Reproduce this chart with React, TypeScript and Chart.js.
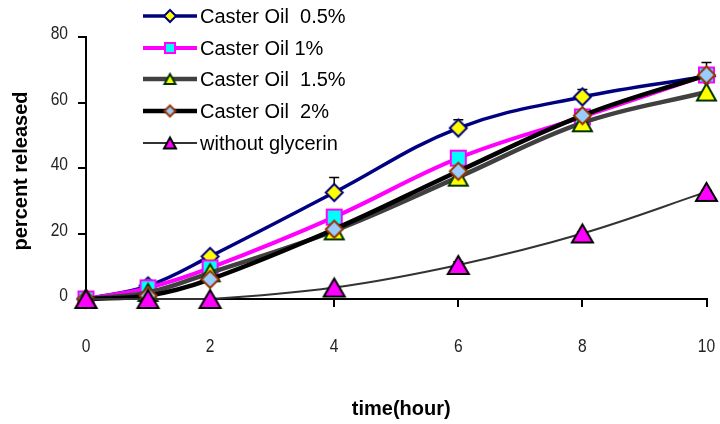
import React, { useEffect, useRef } from "react";
import { Chart, registerables } from "chart.js";

Chart.register(...registerables);

// ---- data ----
const hours = [0, 1, 2, 4, 6, 8, 10];
const seriesNames = [
  "Caster Oil  0.5%",
  "Caster Oil 1%",
  "Caster Oil  1.5%",
  "Caster Oil  2%",
  "without glycerin",
];
const castor05 = [0, 4, 13, 32.5, 52.2, 61.7, 68];
const castor1 = [0, 3.4, 9.5, 25, 43, 55.6, 68.4];
const castor15 = [0, 2, 8, 20.8, 37.2, 53.8, 63.2];
const castor2 = [0, 1, 6, 21.3, 39, 56, 68.4];
const noGlycerin = [0, 0, 0, 3.5, 10.4, 20, 32.7];
const err05 = [0, 0, 0, 4.6, 2.5, 2.3, 0];
const err1 = [0, 0, 0, 1, 0, 0, 0];
const err15 = [0, 0, 0, 0, 0, 0, 0];
const err2 = [0, 0, 0, 0, 0, 0, 3.8];
const errNoG = [0, 0, 0, 0, 1, 0.5, 0.5];
const xTicks = [0, 2, 4, 6, 8, 10];
const yTicks = [0, 20, 40, 60, 80];
const xTitle = "time(hour)";
const yTitle = "percent released";

type Kind = "diamond" | "square" | "triangle";

function makeMarker(kind: Kind, w: number, h: number, fill: string, stroke: string, lw: number) {
  const c = document.createElement("canvas");
  c.width = Math.ceil(w + lw * 2 + 2);
  c.height = Math.ceil(h + lw * 2 + 2);
  const ctx = c.getContext("2d")!;
  const cx = c.width / 2;
  const cy = c.height / 2;
  ctx.beginPath();
  if (kind === "diamond") {
    ctx.moveTo(cx, cy - h / 2);
    ctx.lineTo(cx + w / 2, cy);
    ctx.lineTo(cx, cy + h / 2);
    ctx.lineTo(cx - w / 2, cy);
  } else if (kind === "square") {
    ctx.rect(cx - w / 2, cy - h / 2, w, h);
  } else {
    ctx.moveTo(cx, cy - h / 2);
    ctx.lineTo(cx + w / 2, cy + h / 2);
    ctx.lineTo(cx - w / 2, cy + h / 2);
  }
  ctx.closePath();
  ctx.fillStyle = fill;
  ctx.fill();
  ctx.lineJoin = "miter";
  ctx.lineWidth = lw;
  ctx.strokeStyle = stroke;
  ctx.stroke();
  return c;
}

interface Style {
  line: string;
  width: number;
  kind: Kind;
  fill: string;
  stroke: string;
  mw: number;
  mh: number;
  lw: number;
  lmw: number;
  lmh: number;
}

const styles: Style[] = [
  { line: "#000080", width: 3.5, kind: "diamond", fill: "#FFFF00", stroke: "#000080", mw: 17, mh: 17, lw: 2, lmw: 12, lmh: 12 },
  { line: "#FF00FF", width: 4, kind: "square", fill: "#00FFFF", stroke: "#FF00FF", mw: 15, mh: 15, lw: 2, lmw: 10, lmh: 10 },
  { line: "#404040", width: 4.5, kind: "triangle", fill: "#FFFF00", stroke: "#003300", mw: 19, mh: 17, lw: 2, lmw: 11, lmh: 10 },
  { line: "#000000", width: 4.5, kind: "diamond", fill: "#99CCFF", stroke: "#993300", mw: 17, mh: 17, lw: 2, lmw: 11, lmh: 11 },
  { line: "#333333", width: 2, kind: "triangle", fill: "#FF00FF", stroke: "#000000", mw: 21, mh: 18, lw: 2, lmw: 12, lmh: 11 },
];

const seriesValues = [castor05, castor1, castor15, castor2, noGlycerin];
const seriesErrors = [err05, err1, err15, err2, errNoG];

const TICK_FONT = "19px 'Liberation Sans', Arial, sans-serif";
const SQUEEZE = 0.82;

export default function App() {
  const ref = useRef<HTMLCanvasElement>(null);

  useEffect(() => {
    document.body.style.margin = "0";
    const canvas = ref.current!;
    const markers = styles.map((s) => makeMarker(s.kind, s.mw, s.mh, s.fill, s.stroke, s.lw));
    const legendMarkers = styles.map((s) => makeMarker(s.kind, s.lmw, s.lmh, s.fill, s.stroke, s.lw));

    const overlay = {
      id: "overlay",
      beforeDatasetsDraw(chart: any) {
        const ctx = chart.ctx as CanvasRenderingContext2D;
        const xs = chart.scales.x;
        const ys = chart.scales.y;
        ctx.save();
        ctx.strokeStyle = "#000";
        ctx.lineWidth = 1.5;
        seriesValues.forEach((vals, si) => {
          const errs = seriesErrors[si];
          vals.forEach((v, i) => {
            const e = errs[i];
            if (!e) return;
            const x = xs.getPixelForValue(hours[i]);
            const y0 = ys.getPixelForValue(v);
            const y1 = ys.getPixelForValue(v + e);
            ctx.beginPath();
            ctx.moveTo(x, y0);
            ctx.lineTo(x, y1);
            ctx.moveTo(x - 5, y1);
            ctx.lineTo(x + 5, y1);
            ctx.stroke();
          });
        });
        ctx.restore();
      },
      afterDraw(chart: any) {
        const ctx = chart.ctx as CanvasRenderingContext2D;
        const area = chart.chartArea;
        const xs = chart.scales.x;
        const ys = chart.scales.y;
        ctx.save();
        // tick labels (narrow)
        ctx.fillStyle = "#222";
        ctx.font = TICK_FONT;
        ctx.textBaseline = "middle";
        xTicks.forEach((v) => {
          const x = xs.getPixelForValue(v);
          ctx.save();
          ctx.translate(x, 347);
          ctx.scale(SQUEEZE, 1);
          ctx.textAlign = "center";
          ctx.fillText(String(v), 0, 0);
          ctx.restore();
        });
        yTicks.forEach((v) => {
          const y = ys.getPixelForValue(v);
          ctx.save();
          ctx.translate(68, y - 3);
          ctx.scale(SQUEEZE, 1);
          ctx.textAlign = "right";
          ctx.fillText(String(v), 0, 0);
          ctx.restore();
        });
        // legend
        const rowsLine = [16, 48, 79, 111, 143];
        styles.forEach((s, i) => {
          const y = rowsLine[i];
          ctx.beginPath();
          ctx.strokeStyle = s.line;
          ctx.lineWidth = s.width;
          ctx.moveTo(143, y);
          ctx.lineTo(197, y);
          ctx.stroke();
          const m = legendMarkers[i];
          ctx.drawImage(m, 170 - m.width / 2, y - m.height / 2);
          ctx.fillStyle = "#000";
          ctx.font = "20px 'Liberation Sans', Arial, sans-serif";
          ctx.textAlign = "left";
          ctx.textBaseline = "middle";
          ctx.fillText(seriesNames[i], 200, y + 1);
        });
        // axis titles
        ctx.fillStyle = "#000";
        ctx.font = "bold 20px 'Liberation Sans', Arial, sans-serif";
        ctx.textAlign = "center";
        ctx.textBaseline = "alphabetic";
        ctx.fillText(xTitle, (area.left + area.right) / 2 + 5, 415);
        ctx.translate(27, (area.top + area.bottom) / 2 + 3);
        ctx.rotate(-Math.PI / 2);
        ctx.fillText(yTitle, 0, 0);
        ctx.restore();
      },
    };

    const chart = new Chart(canvas, {
      type: "line",
      data: {
        datasets: seriesValues.map((vals, i) => ({
          label: seriesNames[i],
          data: hours.map((h, j) => ({ x: h, y: vals[j] })),
          borderColor: styles[i].line,
          borderWidth: styles[i].width,
          backgroundColor: styles[i].fill,
          pointStyle: markers[i] as any,
          pointRadius: 9,
          pointHoverRadius: 9,
          tension: 0.38,
          clip: false as any,
          order: 5 - i,
        })),
      },
      options: {
        animation: false,
        responsive: false,
        devicePixelRatio: 1,
        events: [],
        layout: { padding: { left: 0, top: 37, right: 11, bottom: 0 } },
        plugins: {
          legend: { display: false },
          tooltip: { enabled: false },
          title: { display: false },
        },
        scales: {
          x: {
            type: "linear",
            min: 0,
            max: 10,
            afterFit: (scale: any) => {
              scale.height = 125;
              scale.paddingLeft = 0;
              scale.paddingRight = 0;
            },
            afterBuildTicks: (scale: any) => {
              scale.ticks = xTicks.map((v) => ({ value: v }));
            },
            grid: {
              display: true,
              drawOnChartArea: false,
              drawTicks: true,
              tickLength: 8,
              lineWidth: 2,
              color: (c: any) => (c.index === 0 ? "rgba(0,0,0,0)" : "#000"),
            },
            border: { display: true, color: "#000", width: 2 },
            ticks: { display: false },
          },
          y: {
            type: "linear",
            min: 0,
            max: 80,
            afterFit: (scale: any) => {
              scale.width = 86;
              scale.paddingTop = 0;
              scale.paddingBottom = 0;
            },
            afterBuildTicks: (scale: any) => {
              scale.ticks = yTicks.map((v) => ({ value: v }));
            },
            grid: {
              display: true,
              drawOnChartArea: false,
              drawTicks: true,
              tickLength: 8,
              lineWidth: 2,
              color: "#000",
            },
            border: { display: true, color: "#000", width: 2 },
            ticks: { display: false },
          },
        },
      },
      plugins: [overlay],
    });
    return () => chart.destroy();
  }, []);

  return (
    <canvas
      ref={ref}
      width={720}
      height={424}
      style={{ position: "absolute", left: 0, top: 0, width: 720, height: 424 }}
    />
  );
}
